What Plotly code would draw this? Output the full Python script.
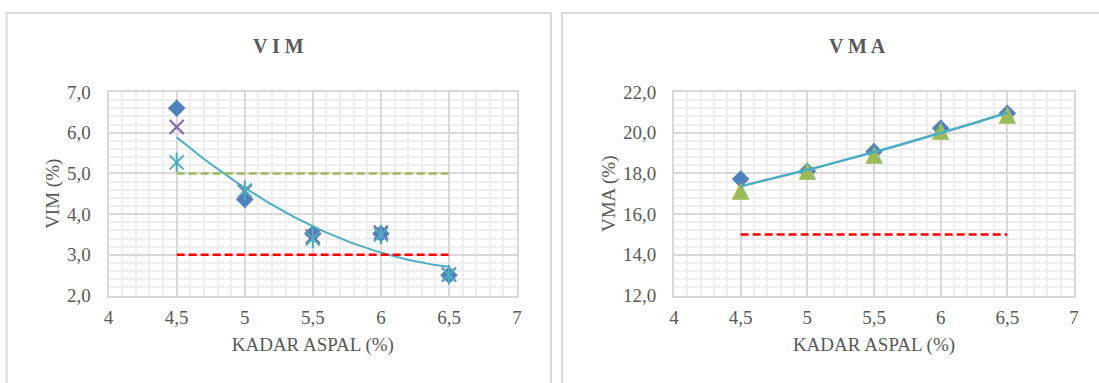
import numpy as np
import plotly.graph_objects as go

W, H = 1099, 383

# Asphalt content (%)
kadar = [4.5, 5.0, 5.5, 6.0, 6.5]

# VIM (%) for the three specimens
vim_a = [6.60, 4.36, 3.52, 3.52, 2.50]
vim_b = [6.14, 4.55, 3.45, 3.55, 2.52]
vim_c = [5.27, 4.58, 3.40, 3.50, 2.51]
vim_min, vim_max = 3.0, 5.0

# VMA (%) for the two specimens
vma_a = [17.72, 18.10, 19.07, 20.22, 20.95]
vma_b = [17.10, 18.10, 18.89, 20.05, 20.88]
vma_min = 15.0

x_ticks = [4, 4.5, 5, 5.5, 6, 6.5, 7]

GRID = "#D9D9D9"
MINOR = "#EEEEEE"
TXT = "#595959"
FONT = "Liberation Serif, Times New Roman, DejaVu Serif, serif"

BLUE = "#4F81BD"
PURPLE = "#8064A2"
CYAN = "#4BACC6"
GREEN = "#9BBB59"
RED = "#FF0000"


def px_x(p):
    return p / W


def px_y(p):
    return 1 - p / H


def trend(series_list):
    xs = np.concatenate([kadar] * len(series_list))
    ys = np.concatenate(series_list)
    coef = np.polyfit(xs, ys, 2)
    xx = np.linspace(min(kadar), max(kadar), 80)
    return xx, np.polyval(coef, xx)


fig = go.Figure()

# ---- VIM panel ----
fig.add_trace(go.Scatter(x=kadar, y=vim_a, mode="markers", xaxis="x", yaxis="y",
                         marker=dict(symbol="diamond", size=13.5, color=BLUE, line=dict(width=0))))
fig.add_trace(go.Scatter(x=kadar, y=vim_b, mode="markers", xaxis="x", yaxis="y",
                         marker=dict(symbol="x-thin-open", size=14, color=PURPLE,
                                     line=dict(width=2, color=PURPLE))))
for sym in ["x-thin-open", "line-ns-open"]:
    fig.add_trace(go.Scatter(x=kadar, y=vim_c, mode="markers", xaxis="x", yaxis="y",
                             marker=dict(symbol=sym, size=14, color=CYAN,
                                         line=dict(width=2, color=CYAN))))
tx, ty = trend([vim_a, vim_b, vim_c])
fig.add_trace(go.Scatter(x=tx, y=ty, mode="lines", xaxis="x", yaxis="y",
                         line=dict(color=CYAN, width=2)))
fig.add_trace(go.Scatter(x=[kadar[0], kadar[-1]], y=[vim_max, vim_max], mode="lines",
                         xaxis="x", yaxis="y",
                         line=dict(color=GREEN, width=2.5, dash="8px,4px")))
fig.add_trace(go.Scatter(x=[kadar[0], kadar[-1]], y=[vim_min, vim_min], mode="lines",
                         xaxis="x", yaxis="y",
                         line=dict(color=RED, width=2.5, dash="8px,4px")))

# ---- VMA panel ----
fig.add_trace(go.Scatter(x=kadar, y=vma_a, mode="markers", xaxis="x2", yaxis="y2",
                         marker=dict(symbol="diamond", size=13.5, color=BLUE, line=dict(width=0))))
fig.add_trace(go.Scatter(x=kadar, y=vma_b, mode="text", xaxis="x2", yaxis="y2",
                         text=["▲"] * len(kadar), textposition="middle center",
                         textfont=dict(family="DejaVu Sans", size=23, color=GREEN)))
tx2, ty2 = trend([vma_a, vma_b])
fig.add_trace(go.Scatter(x=tx2, y=ty2, mode="lines", xaxis="x2", yaxis="y2",
                         line=dict(color=CYAN, width=2.5)))
fig.add_trace(go.Scatter(x=[kadar[0], kadar[-1]], y=[vma_min, vma_min], mode="lines",
                         xaxis="x2", yaxis="y2",
                         line=dict(color=RED, width=2.5, dash="8px,4px")))

tick_font = dict(family=FONT, size=19, color=TXT)
title_font = dict(family=FONT, size=19, color=TXT)


def xaxis(domain):
    return dict(domain=domain, range=[4, 7], tickvals=x_ticks, showgrid=True,
                gridcolor=GRID, gridwidth=2, zeroline=False,
                showline=True, linecolor=GRID, linewidth=2, mirror=True,
                minor=dict(dtick=0.1, showgrid=True, gridcolor=MINOR, gridwidth=2),
                tickfont=tick_font, ticks="", ticklabelstandoff=4,
                title=dict(text="KADAR ASPAL (%)", font=title_font, standoff=10),
                automargin=False, fixedrange=True)


def yaxis(domain, rng, dtick, minor_dtick, title, anchor):
    return dict(domain=domain, range=rng, dtick=dtick, tick0=rng[0], tickformat=".1f",
                showgrid=True, gridcolor=GRID, gridwidth=2, zeroline=False,
                showline=True, linecolor=GRID, linewidth=2, mirror=True,
                minor=dict(dtick=minor_dtick, tick0=rng[0], showgrid=True,
                           gridcolor=MINOR, gridwidth=2),
                tickfont=tick_font, ticks="", ticklabelstandoff=12,
                title=dict(text=title, font=title_font, standoff=2),
                anchor=anchor, automargin=False, fixedrange=True)


ydom = [px_y(295.5), px_y(92)]
fig.update_layout(
    template="none",
    width=W, height=H,
    margin=dict(l=0, r=0, t=0, b=0, autoexpand=False),
    paper_bgcolor="white", plot_bgcolor="white",
    separators=",.",
    showlegend=False,
    xaxis=dict(**xaxis([px_x(108.6), px_x(517.1)]), anchor="y"),
    yaxis=yaxis(ydom, [2, 7], 1, 0.2, "VIM (%)", "x"),
    xaxis2=dict(**xaxis([px_x(674.0), px_x(1074.0)]), anchor="y2"),
    yaxis2=yaxis(ydom, [12, 22], 2, 0.4, "VMA (%)", "x2"),
    shapes=[
        dict(type="rect", xref="paper", yref="paper",
             x0=px_x(6.5), x1=px_x(551), y0=-0.2, y1=px_y(13),
             line=dict(color=GRID, width=2), layer="below"),
        dict(type="rect", xref="paper", yref="paper",
             x0=px_x(562), x1=1.2, y0=-0.2, y1=px_y(13),
             line=dict(color=GRID, width=2), layer="below"),
    ],
    annotations=[
        dict(text="<b>V I M</b>", xref="paper", yref="paper", x=px_x(278.5), y=px_y(46),
             xanchor="center", yanchor="middle", showarrow=False,
             font=dict(family=FONT, size=20, color=TXT)),
        dict(text="<b>V M A</b>", xref="paper", yref="paper", x=px_x(857), y=px_y(46),
             xanchor="center", yanchor="middle", showarrow=False,
             font=dict(family=FONT, size=20, color=TXT)),
    ],
)

fig.write_html("out.html")
